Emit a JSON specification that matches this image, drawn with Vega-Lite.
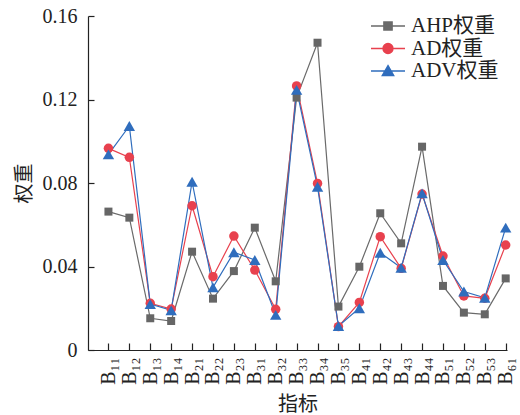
{
  "$schema": "https://vega.github.io/schema/vega-lite/v6.json",
  "autosize": {"type": "none"},
  "padding": {"left": 88, "top": 16, "right": 13, "bottom": 65},
  "width": 419,
  "height": 334,
  "config": {
    "view": {"stroke": null},
    "font": "'Liberation Serif', 'Times New Roman', 'Noto Sans CJK SC'",
    "axis": {
      "domainColor": "#222",
      "tickColor": "#222",
      "domainWidth": 1.2,
      "tickWidth": 1.2,
      "labelColor": "#222",
      "titleColor": "#222",
      "labelFont": "'Liberation Serif', 'Times New Roman', 'DejaVu Serif', 'Noto Sans CJK SC'",
      "titleFont": "'Liberation Serif', 'Noto Sans CJK SC'",
      "labelFontSize": 20,
      "titleFontSize": 20,
      "titleFontWeight": "normal",
      "grid": false
    },
    "legend": {
      "labelFont": "'Liberation Serif', 'Times New Roman', 'Noto Sans CJK SC'",
      "labelFontSize": 21,
      "labelColor": "#222",
      "labelLimit": 200,
      "symbolSize": 1156,
      "symbolStrokeWidth": 1.5,
      "clipHeight": 20,
      "rowPadding": 1.5,
      "labelOffset": 5,
      "padding": 0
    }
  },
  "data": {
    "values": [
      {"idx": "B₁₁", "series": "AHP权重", "value": 0.0663},
      {"idx": "B₁₂", "series": "AHP权重", "value": 0.0634},
      {"idx": "B₁₃", "series": "AHP权重", "value": 0.0152},
      {"idx": "B₁₄", "series": "AHP权重", "value": 0.0139},
      {"idx": "B₂₁", "series": "AHP权重", "value": 0.0471},
      {"idx": "B₂₂", "series": "AHP权重", "value": 0.0246},
      {"idx": "B₂₃", "series": "AHP权重", "value": 0.0378},
      {"idx": "B₃₁", "series": "AHP权重", "value": 0.0586},
      {"idx": "B₃₂", "series": "AHP权重", "value": 0.0329},
      {"idx": "B₃₃", "series": "AHP权重", "value": 0.1209},
      {"idx": "B₃₄", "series": "AHP权重", "value": 0.1472},
      {"idx": "B₃₅", "series": "AHP权重", "value": 0.0208},
      {"idx": "B₄₁", "series": "AHP权重", "value": 0.0399},
      {"idx": "B₄₂", "series": "AHP权重", "value": 0.0655},
      {"idx": "B₄₃", "series": "AHP权重", "value": 0.0511},
      {"idx": "B₄₄", "series": "AHP权重", "value": 0.0974},
      {"idx": "B₅₁", "series": "AHP权重", "value": 0.0307},
      {"idx": "B₅₂", "series": "AHP权重", "value": 0.0179},
      {"idx": "B₅₃", "series": "AHP权重", "value": 0.0171},
      {"idx": "B₆₁", "series": "AHP权重", "value": 0.0343},
      {"idx": "B₁₁", "series": "AD权重", "value": 0.0966},
      {"idx": "B₁₂", "series": "AD权重", "value": 0.0923},
      {"idx": "B₁₃", "series": "AD权重", "value": 0.0224},
      {"idx": "B₁₄", "series": "AD权重", "value": 0.0196},
      {"idx": "B₂₁", "series": "AD权重", "value": 0.0691},
      {"idx": "B₂₂", "series": "AD权重", "value": 0.0351},
      {"idx": "B₂₃", "series": "AD权重", "value": 0.0546},
      {"idx": "B₃₁", "series": "AD权重", "value": 0.0383},
      {"idx": "B₃₂", "series": "AD权重", "value": 0.0195},
      {"idx": "B₃₃", "series": "AD权重", "value": 0.1265},
      {"idx": "B₃₄", "series": "AD权重", "value": 0.0798},
      {"idx": "B₃₅", "series": "AD权重", "value": 0.0112},
      {"idx": "B₄₁", "series": "AD权重", "value": 0.0228},
      {"idx": "B₄₂", "series": "AD权重", "value": 0.0543},
      {"idx": "B₄₃", "series": "AD权重", "value": 0.0391},
      {"idx": "B₄₄", "series": "AD权重", "value": 0.0747},
      {"idx": "B₅₁", "series": "AD权重", "value": 0.0450},
      {"idx": "B₅₂", "series": "AD权重", "value": 0.0259},
      {"idx": "B₅₃", "series": "AD权重", "value": 0.0248},
      {"idx": "B₆₁", "series": "AD权重", "value": 0.0503},
      {"idx": "B₁₁", "series": "ADV权重", "value": 0.0937},
      {"idx": "B₁₂", "series": "ADV权重", "value": 0.1073},
      {"idx": "B₁₃", "series": "ADV权重", "value": 0.0220},
      {"idx": "B₁₄", "series": "ADV权重", "value": 0.0190},
      {"idx": "B₂₁", "series": "ADV权重", "value": 0.0806},
      {"idx": "B₂₂", "series": "ADV权重", "value": 0.0300},
      {"idx": "B₂₃", "series": "ADV权重", "value": 0.0468},
      {"idx": "B₃₁", "series": "ADV权重", "value": 0.0431},
      {"idx": "B₃₂", "series": "ADV权重", "value": 0.0168},
      {"idx": "B₃₃", "series": "ADV权重", "value": 0.1246},
      {"idx": "B₃₄", "series": "ADV权重", "value": 0.0782},
      {"idx": "B₃₅", "series": "ADV权重", "value": 0.0115},
      {"idx": "B₄₁", "series": "ADV权重", "value": 0.0200},
      {"idx": "B₄₂", "series": "ADV权重", "value": 0.0466},
      {"idx": "B₄₃", "series": "ADV权重", "value": 0.0394},
      {"idx": "B₄₄", "series": "ADV权重", "value": 0.0750},
      {"idx": "B₅₁", "series": "ADV权重", "value": 0.0431},
      {"idx": "B₅₂", "series": "ADV权重", "value": 0.0280},
      {"idx": "B₅₃", "series": "ADV权重", "value": 0.0250},
      {"idx": "B₆₁", "series": "ADV权重", "value": 0.0586}
    ]
  },
  "encoding": {
    "x": {
      "field": "idx",
      "type": "nominal",
      "sort": null,
      "scale": {"type": "point", "padding": 0.52, "align": 0.94},
      "axis": {
        "title": "指标",
        "labelAngle": -90,
        "tickSize": -7,
        "labelPadding": 14,
        "titlePadding": 10
      }
    },
    "y": {
      "field": "value",
      "type": "quantitative",
      "scale": {"domain": [0, 0.16], "nice": false, "zero": true},
      "axis": {
        "title": "权重",
        "values": [0, 0.04, 0.08, 0.12, 0.16],
        "labelExpr": "datum.value == 0 ? '0' : format(datum.value, '.2f')",
        "tickSize": -6,
        "labelPadding": 17,
        "titlePadding": 8
      }
    }
  },
  "layer": [
    {
      "mark": {"type": "line", "strokeWidth": 1.2},
      "encoding": {
        "color": {
          "field": "series",
          "type": "nominal",
          "scale": {
            "domain": ["AHP权重", "AD权重", "ADV权重"],
            "range": ["#6a6a6a", "#e8414e", "#2f6dbd"]
          },
          "legend": {
            "title": null,
            "orient": "none",
            "legendX": 282,
            "legendY": 0,
            "encode": {
              "symbols": {
                "update": {
                  "shape": {"signal": "datum.value === 'AHP权重' ? 'M-1,0H1M-0.24,-0.24H0.24V0.24H-0.24Z' : datum.value === 'AD权重' ? 'M-1,0H1M-0.29,0A0.29,0.29,0,1,1,0.29,0A0.29,0.29,0,1,1,-0.29,0Z' : 'M-1,0H1M0,-0.31L0.33,0.26H-0.33Z'"},
                  "fill": {"signal": "scale('color', datum.value)"},
                  "stroke": {"signal": "scale('color', datum.value)"},
                  "strokeWidth": {"value": 1.5},
                  "opacity": {"value": 1}
                }
              }
            }
          }
        }
      }
    },
    {
      "transform": [{"filter": "datum.series === 'AHP权重'"}],
      "mark": {"type": "point", "filled": true, "opacity": 1, "shape": "square", "size": 64, "color": "#666666"}
    },
    {
      "transform": [{"filter": "datum.series === 'AD权重'"}],
      "mark": {"type": "point", "filled": true, "opacity": 1, "shape": "circle", "size": 90, "color": "#e8414e"}
    },
    {
      "transform": [{"filter": "datum.series === 'ADV权重'"}],
      "mark": {"type": "point", "filled": true, "opacity": 1, "shape": "triangle-up", "size": 130, "color": "#2f6dbd"}
    }
  ]
}
